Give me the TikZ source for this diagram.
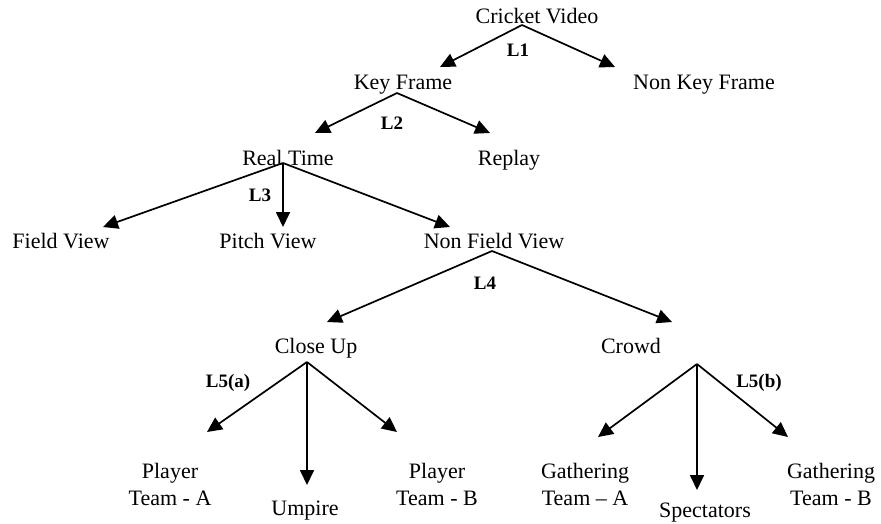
\documentclass[tikz,border=0pt]{standalone}
\usepackage{fontspec}
\setmainfont{Liberation Serif}
\usetikzlibrary{arrows.meta}
\begin{document}
\begin{tikzpicture}[x=1pt,y=-1pt,
  lbl/.style={inner sep=0pt,font=\fontsize{22}{27}\selectfont,align=center},
  lev/.style={inner sep=0pt,font=\fontsize{19}{22}\selectfont\bfseries},
  conn/.style={line width=1.7pt,-{Triangle[length=15pt,width=14pt]}}]
\useasboundingbox (0,0) rectangle (881,523);
% nodes
\node[lbl,anchor=base] (cv) at (537,23) {Cricket Video};
\node[lbl,anchor=base] (kf) at (403,89) {Key Frame};
\node[lbl,anchor=base] (nkf) at (704,89) {Non Key Frame};
\node[lbl,anchor=base] (rt) at (288,165) {Real Time};
\node[lbl,anchor=base] (rp) at (509,165) {Replay};
\node[lbl,anchor=base] (fv) at (61,248) {Field View};
\node[lbl,anchor=base] (pv) at (268,248) {Pitch View};
\node[lbl,anchor=base] (nfv) at (494,248) {Non Field View};
\node[lbl,anchor=base] (cu) at (316,353) {Close Up};
\node[lbl,anchor=base] (cr) at (631,353) {Crowd};
\node[lbl] (pta) at (170,484) {Player\\Team - A};
\node[lbl,anchor=base] (ump) at (305,515) {Umpire};
\node[lbl] (ptb) at (437,484) {Player\\Team - B};
\node[lbl] (gta) at (585,484) {Gathering\\Team -- A};
\node[lbl,anchor=base] (spc) at (705,517) {Spectators};
\node[lbl] (gtb) at (831,484) {Gathering\\Team - B};
% level labels
\node[lev] (l1) at (518,50) {L1};
\node[lev] (l2) at (392,123) {L2};
\node[lev] (l3) at (260,195) {L3};
\node[lev] (l4) at (485,283) {L4};
\node[lev] (l5a) at (228,383) {L5(a)};
\node[lev] (l5b) at (759,383) {L5(b)};
% apex coordinates
\coordinate (a-cv) at (522,25);
\coordinate (a-kf) at (397,93);
\coordinate (a-rt) at (283,163);
\coordinate (a-nfv) at (492,251);
\coordinate (a-cu) at (307,362);
\coordinate (a-cr) at (697,364);
% tip coordinates
\coordinate (t-kf) at (440,67);
\coordinate (t-nkf) at (615,67);
\coordinate (t-rt) at (315,133);
\coordinate (t-rp) at (490,133);
\coordinate (t-fv) at (103,227);
\coordinate (t-pv) at (283,227);
\coordinate (t-nfv) at (450,227);
\coordinate (t-cu) at (327,322);
\coordinate (t-cr) at (672,322);
\coordinate (t-pta) at (207,432);
\coordinate (t-ump) at (307,485);
\coordinate (t-ptb) at (397,432);
\coordinate (t-gta) at (598,437);
\coordinate (t-spc) at (697,490);
\coordinate (t-gtb) at (788,437);
% connectors
\draw[conn] (a-cv) -- (t-kf);
\draw[conn] (a-cv) -- (t-nkf);
\draw[conn] (a-kf) -- (t-rt);
\draw[conn] (a-kf) -- (t-rp);
\draw[conn] (a-rt) -- (t-fv);
\draw[conn] (a-rt) -- (t-pv);
\draw[conn] (a-rt) -- (t-nfv);
\draw[conn] (a-nfv) -- (t-cu);
\draw[conn] (a-nfv) -- (t-cr);
\draw[conn] (a-cu) -- (t-pta);
\draw[conn] (a-cu) -- (t-ump);
\draw[conn] (a-cu) -- (t-ptb);
\draw[conn] (a-cr) -- (t-gta);
\draw[conn] (a-cr) -- (t-spc);
\draw[conn] (a-cr) -- (t-gtb);
\end{tikzpicture}
\end{document}
